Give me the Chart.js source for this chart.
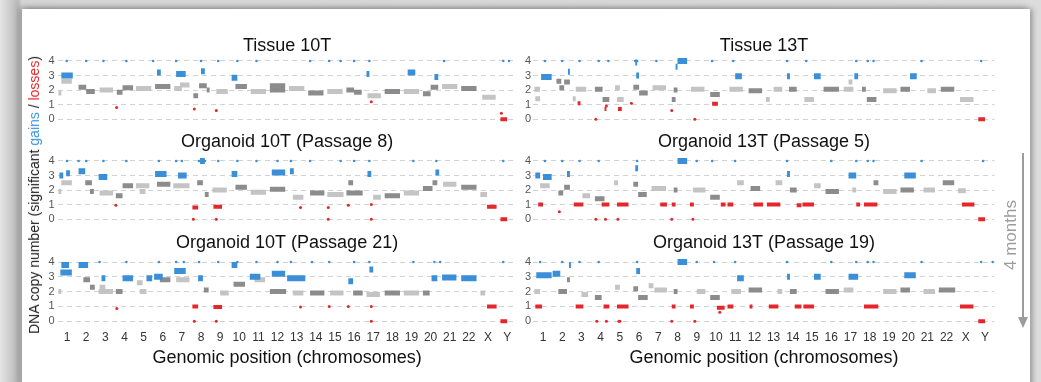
<!DOCTYPE html>
<html lang="en">
<head>
<meta charset="UTF-8">
<title>DNA copy number - tissue vs organoids</title>
<script src="https://cdn.jsdelivr.net/npm/chart.js@4.4.0/dist/chart.umd.min.js"></script>
<style>
  body {
    margin: 0;
    width: 1041px;
    height: 382px;
    overflow: hidden;
    position: relative;
    background: linear-gradient(90deg, #e4e4e4 0px, #b9b9b9 18px, #d6d6d6 22px, #dcdcdc 100%);
    font-family: "Liberation Sans", Arial, sans-serif;
  }
  .sheet {
    position: absolute;
    left: 22px;
    top: 9px;
    width: 1008px;
    height: 400px;
    background: #fff;
    box-shadow: -3px -2px 6px rgba(0,0,0,0.25), 3px 0 5px rgba(0,0,0,0.25);
  }
  canvas { position: absolute; }
  .ylab {
    position: absolute;
    left: 34px;
    top: 195px;
    transform: translate(-50%, -50%) rotate(-90deg);
    white-space: nowrap;
    font-size: 14px;
    color: #222;
  }
  .ylab .gain { color: #3b94dc; }
  .ylab .loss { color: #e5262a; }
  .months {
    position: absolute;
    left: 1011px;
    top: 235px;
    transform: translate(-50%, -50%) rotate(-90deg);
    white-space: nowrap;
    font-size: 17px;
    color: #9c9c9c;
  }
  .arrow-line {
    position: absolute;
    left: 1022px;
    top: 153px;
    width: 2px;
    height: 165px;
    background: #9c9c9c;
  }
  .arrow-head {
    position: absolute;
    left: 1018px;
    top: 317px;
    width: 0;
    height: 0;
    border-left: 5px solid transparent;
    border-right: 5px solid transparent;
    border-top: 11px solid #9c9c9c;
  }
</style>
</head>
<body>
<div class="sheet"></div>
<canvas id="tis10" width="500" height="90" style="left:22px;top:35px"></canvas>
<canvas id="org10p8" width="500" height="94" style="left:22px;top:131px"></canvas>
<canvas id="org10p21" width="500" height="137" style="left:22px;top:232px"></canvas>
<canvas id="tis13" width="480" height="90" style="left:518px;top:35px"></canvas>
<canvas id="org13p5" width="480" height="94" style="left:518px;top:131px"></canvas>
<canvas id="org13p19" width="480" height="137" style="left:518px;top:232px"></canvas>
<div class="ylab">DNA copy number (significant <span class="gain">gains</span> / <span class="loss">losses</span>)</div>
<div class="months">4 months</div>
<div class="arrow-line"></div>
<div class="arrow-head"></div>

<script>
// chromosome axis: chromosome k covers [k-1, k]
const chroms = ['1','2','3','4','5','6','7','8','9','10','11','12','13','14','15','16','17','18','19','20','21','22','X','Y'];
const copyTicks = [0, 1, 2, 3, 4];

// segments are [start, end, copy number]

// Tissue 10T
const tis10Gray = [[0.05,0.2,1.8],[0.2,0.75,2.6],[1.1,1.5,2.2],[1.5,1.95,1.9],[2.2,2.9,2.0],[3.1,3.4,1.85],[3.4,3.95,2.15],
  [4.1,4.9,2.1],[5.1,5.9,2.25],[6.1,6.5,2.1],[6.4,6.9,2.35],[7.1,7.35,1.6],[7.4,7.8,2.3],[7.8,7.95,2.0],[8.3,8.9,1.9],
  [9.3,9.9,2.25],[10.1,10.9,1.9],[11.1,11.9,2.0],[11.1,11.9,2.3],[12.1,12.9,2.1],[13.1,13.9,1.8],[14.1,14.9,1.9],
  [15.1,15.5,2.0],[15.5,15.9,1.85],[16.2,16.9,1.6],[17.1,17.9,1.9],[18.1,18.9,1.9],[19.1,19.5,1.75],[19.5,19.9,2.2],
  [20.1,20.9,2.25],[21.1,21.9,2.1],[22.2,22.9,1.5]];
const tis10Gain = [[0.2,0.8,3.0],[5.2,5.4,3.2],[6.2,6.7,3.1],[7.5,7.7,3.3],[9.1,9.4,2.85],[16.15,16.3,3.1],[18.3,18.7,3.2],[19.7,19.9,2.9]];
const tis10Loss = [[23.15,23.5,0.0]];
const tis10RedDots = [[3.09,0.8],[7.15,0.7],[8.3,0.6],[16.4,1.2],[23.2,0.4]];
const tis10Cap = [0.48,1.5,2.4,3.6,5.0,6.2,7.5,8.4,9.4,10.4,13.2,14.2,14.8,15.5,16.3,20.2,23.3,23.6];

// Organoid 10T (Passage 8)
const org10p8Gray = [[0.05,0.2,1.9],[0.2,0.75,2.5],[1.45,1.8,2.5],[1.7,1.9,1.9],[2.2,2.9,1.8],[3.05,3.4,1.6],[3.4,3.95,2.3],
  [4.1,4.8,2.3],[4.3,4.6,1.9],[5.2,5.9,2.4],[6.05,6.9,2.3],[7.3,7.6,2.5],[7.7,7.9,1.7],[8.1,8.85,2.0],[9.3,9.9,2.2],
  [10.1,10.9,1.85],[11.1,11.9,2.05],[12.3,12.85,1.5],[13.2,13.95,1.8],[14.1,14.95,1.7],[15.1,15.95,1.8],[15.2,15.45,2.5],
  [16.5,16.9,1.5],[17.1,17.9,1.6],[18.1,18.9,1.8],[19.1,19.6,2.1],[19.6,19.85,2.5],[20.15,20.85,2.4],[21.1,21.9,2.2],[22.1,22.45,1.7]];
const org10p8Gain = [[0.1,0.3,3.0],[0.45,0.65,3.15],[1.1,1.45,3.3],[2.15,2.6,2.9],[5.1,5.7,3.1],[6.3,6.75,3.0],[7.45,7.7,4.0],
  [9.1,9.4,3.1],[11.2,11.9,3.2],[12.15,12.35,3.3],[16.2,16.4,3.1],[19.75,19.95,3.2]];
const org10p8Loss = [[7.05,7.35,0.8],[8.15,8.6,0.85],[22.45,22.95,0.85],[23.15,23.5,0.0]];
const org10p8RedDots = [[12.7,0.8],[14.15,0.8],[15.2,0.95],[16.4,1.0],[7.1,0.0],[8.3,0.0],[14.15,0.0],[16.4,0.0],[3.05,0.95]];
const org10p8Cap = [0.5,1.1,1.5,2.4,3.6,5.3,6.2,6.5,7.4,7.7,8.4,9.4,10.4,11.5,12.2,13.2,14.8,15.5,16.3,18.6,19.8,23.3];

// Organoid 10T (Passage 21)
const org10p21Gray = [[0.05,0.2,2.0],[1.35,1.7,2.8],[1.7,1.95,2.3],[2.15,2.9,2.0],[2.2,2.5,2.3],[3.05,3.4,2.0],[4.15,4.45,2.6],
  [4.3,4.65,2.0],[5.35,5.9,2.8],[6.2,6.9,2.8],[7.65,7.9,2.1],[8.5,8.95,1.9],[9.2,9.8,2.5],[10.3,10.85,2.8],[11.1,11.95,2.0],
  [12.3,12.85,1.9],[13.2,13.95,1.9],[14.25,14.95,1.9],[15.45,15.95,1.9],[16.15,16.85,1.8],[17.1,17.9,1.9],[18.1,18.9,1.9],
  [19.1,19.45,1.9],[22.1,22.35,1.9]];
const org10p21Gain = [[0.15,0.75,3.3],[0.2,0.6,3.8],[1.1,1.6,3.8],[2.3,2.5,2.9],[3.4,3.95,2.9],[4.65,4.95,2.9],[5.05,5.5,3.0],
  [6.1,6.7,3.4],[7.35,7.6,2.9],[9.1,9.4,3.8],[10.05,10.6,3.0],[11.2,11.9,3.2],[12.0,12.95,2.9],[15.2,15.45,2.7],[16.3,16.5,3.5],
  [19.55,19.85,2.9],[20.1,20.85,2.95],[21.1,21.9,2.9]];
const org10p21Loss = [[7.05,7.35,1.0],[8.15,8.6,0.95],[22.45,22.95,1.0],[23.15,23.5,0.0]];
const org10p21RedDots = [[3.1,0.85],[12.7,0.95],[14.2,1.0],[15.2,1.0],[16.4,1.0],[7.15,0.0],[8.3,0.0],[16.4,0.0]];
const org10p21Cap = [2.2,3.6,5.3,6.2,6.6,7.4,8.4,9.4,10.4,11.5,12.2,13.3,14.2,15.5,16.3,18.6,19.7,20.0,23.3];

// Tissue 13T
const tis13Gray = [[0.05,0.35,2.05],[0.1,0.35,1.4],[1.2,1.45,2.6],[1.35,1.6,2.15],[1.6,1.9,2.55],[2.2,2.75,2.05],[2.05,2.2,1.4],
  [3.2,3.6,2.05],[3.6,3.95,1.35],[4.25,4.5,2.15],[4.35,4.7,1.35],[5.2,5.5,2.2],[5.5,5.95,1.8],[6.2,6.9,2.15],[7.3,7.5,2.0],
  [7.2,7.4,1.35],[8.2,8.9,2.05],[9.2,9.7,1.7],[10.2,10.9,2.05],[11.2,11.9,1.95],[12.5,12.95,2.05],[12.1,12.3,1.35],
  [13.3,13.7,2.05],[14.1,14.6,1.35],[15.1,15.9,2.05],[16.15,16.65,2.05],[16.4,16.6,2.55],[17.35,17.85,1.35],[17.1,17.3,2.05],
  [18.2,18.9,1.95],[19.1,19.6,2.05],[20.5,20.95,1.95],[21.2,21.9,2.05],[22.2,22.9,1.35]];
const tis13Gain = [[0.4,0.95,2.9],[1.8,1.9,3.25],[5.35,5.5,3.0],[5.3,5.4,3.9],[7.5,8.0,4.0],[7.4,7.5,3.6],[10.5,10.85,2.95],
  [13.2,13.35,2.95],[14.6,14.95,2.95],[16.7,16.9,2.95],[19.6,19.95,2.95]];
const tis13Loss = [[23.15,23.5,0.0],[2.3,2.45,1.1],[3.7,3.8,0.7],[4.4,4.6,0.7],[9.3,9.6,1.05]];
const tis13RedDots = [[7.2,0.6],[3.25,0.0],[8.4,0.0],[3.8,0.9],[5.1,1.1]];
const tis13Cap = [0.6,1.5,2.4,3.4,3.9,5.3,5.4,6.4,9.3,10.4,13.2,14.2,16.8,17.4,17.7,20.2,23.3];

// Organoid 13T (Passage 5)
const org13p5Gray = [[0.35,0.85,2.3],[1.3,1.55,1.8],[1.6,1.9,2.2],[2.55,2.95,1.6],[3.2,3.7,1.4],[4.2,4.4,2.5],[5.2,5.45,2.4],
  [5.45,5.9,1.7],[6.15,6.9,2.1],[7.3,7.5,2.0],[8.3,8.95,2.0],[9.2,9.7,1.5],[10.6,10.95,2.5],[11.3,11.8,2.1],[12.6,12.95,2.5],
  [13.35,13.7,2.0],[14.6,14.95,2.3],[15.2,15.9,1.9],[16.6,16.8,2.0],[17.7,17.95,2.5],[18.2,18.9,1.9],[19.1,19.8,2.0],
  [20.3,20.9,2.0],[21.3,21.9,2.5],[22.1,22.5,1.95]];
const org13p5Gain = [[0.1,0.35,3.0],[0.5,0.95,2.9],[1.75,1.9,3.1],[5.3,5.45,3.5],[7.5,8.0,4.0],[13.2,13.35,3.1],[16.4,16.8,3.0],[19.3,19.9,3.0]];
const org13p5Loss = [[0.25,0.5,1.0],[2.1,2.6,1.0],[3.55,3.95,1.0],[4.35,4.95,1.0],[6.6,6.95,1.0],[7.2,7.4,1.0],[8.15,8.35,1.0],
  [9.75,10.0,1.0],[10.1,10.4,1.0],[11.45,11.95,1.0],[12.15,12.85,1.0],[13.7,13.95,0.95],[14.0,14.6,1.0],[16.8,17.0,1.0],
  [17.2,17.9,1.0],[22.3,22.95,1.0],[23.15,23.5,0.0]];
const org13p5RedDots = [[3.25,0.0],[3.75,0.0],[4.4,0.0],[7.2,0.0],[8.3,0.0],[1.35,0.5]];
const org13p5Cap = [0.6,1.5,2.4,3.4,5.4,8.5,9.3,10.5,13.2,15.5,16.8,17.4,17.7,20.2,23.4];

// Organoid 13T (Passage 19)
const org13p19Gray = [[0.05,0.35,2.0],[1.3,1.75,2.0],[1.75,1.9,2.8],[2.5,2.85,1.8],[3.2,3.55,1.6],[4.25,4.5,2.3],[5.2,5.45,2.2],
  [5.45,5.95,1.6],[6.3,6.95,2.1],[6.0,6.25,2.4],[7.3,7.5,2.0],[8.5,8.95,2.0],[9.2,9.7,1.6],[10.3,10.8,2.0],[11.2,11.9,2.1],
  [12.7,12.95,2.0],[13.35,13.7,2.0],[15.2,15.9,2.0],[16.15,16.65,2.1],[18.2,18.9,2.0],[19.1,19.6,2.1],[20.3,20.9,2.0],[21.1,21.95,2.1]];
const org13p19Gain = [[0.15,0.95,3.1],[1.0,1.4,3.2],[1.85,1.95,3.8],[5.35,5.55,3.4],[7.5,8.0,4.0],[10.6,10.95,2.9],[13.2,13.35,3.0],
  [14.6,14.95,3.0],[16.4,16.9,3.0],[19.3,19.9,3.1]];
const org13p19Loss = [[0.1,0.45,1.0],[2.2,2.6,1.0],[3.65,3.95,1.0],[4.35,4.95,1.0],[7.2,7.4,1.0],[8.15,8.35,1.0],[9.55,9.95,0.9],
  [10.1,10.4,1.0],[11.25,11.4,1.0],[12.25,12.75,1.0],[13.6,13.95,1.0],[14.05,14.6,1.0],[17.2,17.95,1.0],[22.2,22.9,1.0],[23.15,23.5,0.0]];
const org13p19RedDots = [[3.3,0.0],[3.8,0.0],[4.45,0.0],[4.5,0.0],[7.2,0.0],[9.7,0.6],[8.4,0.0]];
const org13p19Cap = [0.35,1.5,2.4,3.4,5.4,8.5,9.4,10.5,13.2,15.5,16.8,17.4,17.7,20.2,23.3,23.9];

const FONT = '"Liberation Sans", Arial, sans-serif';
const LIGHT = 'rgba(190,190,190,0.9)';
const DARK = 'rgba(128,128,128,0.9)';
const BLUE = '#3b8fd8';
const RED = '#e5262a';

// turn a segment list into line points, broken by gaps
function segLine(segs) {
  const pts = [];
  segs.forEach(s => {
    pts.push({x: s[0], y: s[2]}, {x: s[1], y: s[2]}, {x: s[1], y: null});
  });
  return pts;
}

const panels = [
  {id: 'tis10', title: 'Tissue 10T', gray: tis10Gray, gain: tis10Gain, loss: tis10Loss, dots: tis10RedDots, cap: tis10Cap, side: 'L', bottom: false, tpad: 0},
  {id: 'org10p8', title: 'Organoid 10T (Passage 8)', gray: org10p8Gray, gain: org10p8Gain, loss: org10p8Loss, dots: org10p8RedDots, cap: org10p8Cap, side: 'L', bottom: false, tpad: 4},
  {id: 'org10p21', title: 'Organoid 10T (Passage 21)', gray: org10p21Gray, gain: org10p21Gain, loss: org10p21Loss, dots: org10p21RedDots, cap: org10p21Cap, side: 'L', bottom: true, tpad: 4},
  {id: 'tis13', title: 'Tissue 13T', gray: tis13Gray, gain: tis13Gain, loss: tis13Loss, dots: tis13RedDots, cap: tis13Cap, side: 'R', bottom: false, tpad: 0},
  {id: 'org13p5', title: 'Organoid 13T (Passage 5)', gray: org13p5Gray, gain: org13p5Gain, loss: org13p5Loss, dots: org13p5RedDots, cap: org13p5Cap, side: 'R', bottom: false, tpad: 4},
  {id: 'org13p19', title: 'Organoid 13T (Passage 19)', gray: org13p19Gray, gain: org13p19Gain, loss: org13p19Loss, dots: org13p19RedDots, cap: org13p19Cap, side: 'R', bottom: true, tpad: 4}
];

function makePanel(p) {
  const light = p.gray.filter(s => Math.floor(s[0]) % 2 === 0);
  const dark = p.gray.filter(s => Math.floor(s[0]) % 2 === 1);
  const yWidth = p.side === 'L' ? 35.5 : 15.4;
  const yPad = p.side === 'L' ? 3 : 2.4;
  const rPad = p.side === 'L' ? 5.3 : 3.4;

  new Chart(document.getElementById(p.id), {
    type: 'line',
    data: {
      datasets: [
        {data: segLine(p.loss), borderColor: RED, borderWidth: 4},
        {data: p.dots.map(d => ({x: d[0], y: d[1]})), showLine: false, pointRadius: 1.5, pointBackgroundColor: RED, pointBorderWidth: 0},
        {data: segLine(p.gain), borderColor: BLUE, borderWidth: 6},
        {data: p.cap.map(x => ({x: x, y: 4})), showLine: false, pointRadius: 1.3, pointBackgroundColor: BLUE, pointBorderWidth: 0},
        {data: segLine(dark), borderColor: DARK, borderWidth: 5},
        {data: segLine(light), borderColor: LIGHT, borderWidth: 5}
      ]
    },
    options: {
      responsive: false,
      animation: false,
      devicePixelRatio: 1,
      spanGaps: false,
      layout: {padding: {left: 0, right: rPad, top: 0, bottom: 0}},
      elements: {
        line: {tension: 0, borderCapStyle: 'butt'},
        point: {radius: 0, hoverRadius: 0}
      },
      plugins: {
        legend: {display: false},
        tooltip: {enabled: false},
        title: {
          display: true,
          text: p.title,
          fullSize: false,
          color: '#111',
          font: {family: FONT, size: 18, weight: 'normal'},
          padding: {top: 0, bottom: p.tpad}
        }
      },
      scales: {
        x: {
          type: 'linear',
          min: 0,
          max: 24,
          display: p.bottom,
          afterBuildTicks: s => { s.ticks = chroms.map((c, i) => ({value: i + 0.5})); },
          afterFit: s => { s.height = p.bottom ? 43.4 : 0; },
          grid: {display: false, drawTicks: false},
          border: {display: false},
          ticks: {
            autoSkip: false,
            maxRotation: 0,
            padding: 5,
            color: '#333',
            font: {family: FONT, size: 12},
            callback: v => chroms[Math.round(v - 0.5)]
          },
          title: {
            display: true,
            text: 'Genomic position (chromosomes)',
            color: '#111',
            font: {family: FONT, size: 18},
            padding: {top: 0, bottom: 0}
          }
        },
        y: {
          type: 'linear',
          min: -0.3,
          max: 4.3,
          afterBuildTicks: s => { s.ticks = copyTicks.map(v => ({value: v})); },
          afterFit: s => { s.width = yWidth; s.paddingTop = 0; s.paddingBottom = 0; },
          grid: {color: '#d2d2d2', lineWidth: 1, drawTicks: false},
          border: {display: false, dash: [5, 4]},
          ticks: {
            autoSkip: false,
            padding: yPad,
            color: '#555',
            font: {family: FONT, size: 11}
          }
        }
      }
    }
  });
}

panels.forEach(makePanel);
</script>
</body>
</html>
